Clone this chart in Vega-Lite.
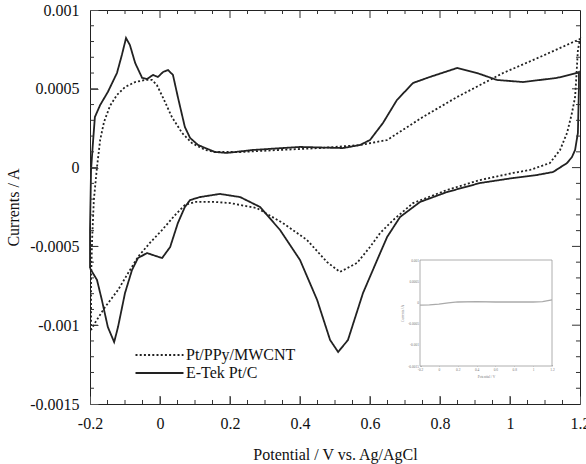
{
  "$schema": "https://vega.github.io/schema/vega-lite/v6.json",
  "width": 490,
  "height": 394,
  "autosize": "none",
  "padding": {"left": 90, "top": 10, "right": 6, "bottom": 60},
  "background": "white",
  "config": {
    "font": "Liberation Serif",
    "view": {"stroke": "#222", "strokeWidth": 1}
  },
  "datasets": {
    "cv": [
      {"s": "E-Tek Pt/C", "i": 0, "E": -0.2, "I": -0.000637},
      {"s": "E-Tek Pt/C", "i": 1, "E": -0.2, "I": -0.000396},
      {"s": "E-Tek Pt/C", "i": 2, "E": -0.197, "I": -0.000015},
      {"s": "E-Tek Pt/C", "i": 3, "E": -0.191, "I": 0.000175},
      {"s": "E-Tek Pt/C", "i": 4, "E": -0.186, "I": 0.000321},
      {"s": "E-Tek Pt/C", "i": 5, "E": -0.171, "I": 0.000397},
      {"s": "E-Tek Pt/C", "i": 6, "E": -0.149, "I": 0.00048},
      {"s": "E-Tek Pt/C", "i": 7, "E": -0.123, "I": 0.0006},
      {"s": "E-Tek Pt/C", "i": 8, "E": -0.109, "I": 0.000714},
      {"s": "E-Tek Pt/C", "i": 9, "E": -0.097, "I": 0.000822},
      {"s": "E-Tek Pt/C", "i": 10, "E": -0.086, "I": 0.000778},
      {"s": "E-Tek Pt/C", "i": 11, "E": -0.071, "I": 0.000664},
      {"s": "E-Tek Pt/C", "i": 12, "E": -0.051, "I": 0.000569},
      {"s": "E-Tek Pt/C", "i": 13, "E": -0.037, "I": 0.000562},
      {"s": "E-Tek Pt/C", "i": 14, "E": -0.02, "I": 0.000588},
      {"s": "E-Tek Pt/C", "i": 15, "E": -0.006, "I": 0.000575},
      {"s": "E-Tek Pt/C", "i": 16, "E": 0.009, "I": 0.000607},
      {"s": "E-Tek Pt/C", "i": 17, "E": 0.023, "I": 0.000619},
      {"s": "E-Tek Pt/C", "i": 18, "E": 0.037, "I": 0.000588},
      {"s": "E-Tek Pt/C", "i": 19, "E": 0.051, "I": 0.000448},
      {"s": "E-Tek Pt/C", "i": 20, "E": 0.071, "I": 0.000258},
      {"s": "E-Tek Pt/C", "i": 21, "E": 0.086, "I": 0.000188},
      {"s": "E-Tek Pt/C", "i": 22, "E": 0.109, "I": 0.000143},
      {"s": "E-Tek Pt/C", "i": 23, "E": 0.157, "I": 0.000099},
      {"s": "E-Tek Pt/C", "i": 24, "E": 0.191, "I": 0.000093},
      {"s": "E-Tek Pt/C", "i": 25, "E": 0.266, "I": 0.000112},
      {"s": "E-Tek Pt/C", "i": 26, "E": 0.4, "I": 0.000131},
      {"s": "E-Tek Pt/C", "i": 27, "E": 0.523, "I": 0.000124},
      {"s": "E-Tek Pt/C", "i": 28, "E": 0.571, "I": 0.000143},
      {"s": "E-Tek Pt/C", "i": 29, "E": 0.6, "I": 0.000175},
      {"s": "E-Tek Pt/C", "i": 30, "E": 0.637, "I": 0.000283},
      {"s": "E-Tek Pt/C", "i": 31, "E": 0.677, "I": 0.000429},
      {"s": "E-Tek Pt/C", "i": 32, "E": 0.723, "I": 0.000537},
      {"s": "E-Tek Pt/C", "i": 33, "E": 0.771, "I": 0.000575},
      {"s": "E-Tek Pt/C", "i": 34, "E": 0.849, "I": 0.000632},
      {"s": "E-Tek Pt/C", "i": 35, "E": 0.906, "I": 0.0006},
      {"s": "E-Tek Pt/C", "i": 36, "E": 0.963, "I": 0.000556},
      {"s": "E-Tek Pt/C", "i": 37, "E": 1.037, "I": 0.000543},
      {"s": "E-Tek Pt/C", "i": 38, "E": 1.134, "I": 0.000569},
      {"s": "E-Tek Pt/C", "i": 39, "E": 1.191, "I": 0.0006},
      {"s": "E-Tek Pt/C", "i": 40, "E": 1.197, "I": 0.000607},
      {"s": "E-Tek Pt/C", "i": 41, "E": 1.197, "I": 0.000511},
      {"s": "E-Tek Pt/C", "i": 42, "E": 1.194, "I": 0.00022},
      {"s": "E-Tek Pt/C", "i": 43, "E": 1.186, "I": 0.000112},
      {"s": "E-Tek Pt/C", "i": 44, "E": 1.177, "I": 0.000067},
      {"s": "E-Tek Pt/C", "i": 45, "E": 1.163, "I": 0.000029},
      {"s": "E-Tek Pt/C", "i": 46, "E": 1.123, "I": -0.000028},
      {"s": "E-Tek Pt/C", "i": 47, "E": 1.077, "I": -0.000047},
      {"s": "E-Tek Pt/C", "i": 48, "E": 1.009, "I": -0.000066},
      {"s": "E-Tek Pt/C", "i": 49, "E": 0.914, "I": -0.000098},
      {"s": "E-Tek Pt/C", "i": 50, "E": 0.82, "I": -0.000155},
      {"s": "E-Tek Pt/C", "i": 51, "E": 0.743, "I": -0.000218},
      {"s": "E-Tek Pt/C", "i": 52, "E": 0.686, "I": -0.000313},
      {"s": "E-Tek Pt/C", "i": 53, "E": 0.649, "I": -0.00044},
      {"s": "E-Tek Pt/C", "i": 54, "E": 0.629, "I": -0.000542},
      {"s": "E-Tek Pt/C", "i": 55, "E": 0.58, "I": -0.000796},
      {"s": "E-Tek Pt/C", "i": 56, "E": 0.537, "I": -0.001094},
      {"s": "E-Tek Pt/C", "i": 57, "E": 0.509, "I": -0.00117},
      {"s": "E-Tek Pt/C", "i": 58, "E": 0.486, "I": -0.001094},
      {"s": "E-Tek Pt/C", "i": 59, "E": 0.449, "I": -0.00084},
      {"s": "E-Tek Pt/C", "i": 60, "E": 0.4, "I": -0.000586},
      {"s": "E-Tek Pt/C", "i": 61, "E": 0.343, "I": -0.000396},
      {"s": "E-Tek Pt/C", "i": 62, "E": 0.286, "I": -0.00025},
      {"s": "E-Tek Pt/C", "i": 63, "E": 0.229, "I": -0.000187},
      {"s": "E-Tek Pt/C", "i": 64, "E": 0.171, "I": -0.000167},
      {"s": "E-Tek Pt/C", "i": 65, "E": 0.114, "I": -0.000187},
      {"s": "E-Tek Pt/C", "i": 66, "E": 0.086, "I": -0.000206},
      {"s": "E-Tek Pt/C", "i": 67, "E": 0.071, "I": -0.00025},
      {"s": "E-Tek Pt/C", "i": 68, "E": 0.051, "I": -0.000352},
      {"s": "E-Tek Pt/C", "i": 69, "E": 0.029, "I": -0.000504},
      {"s": "E-Tek Pt/C", "i": 70, "E": 0.006, "I": -0.000574},
      {"s": "E-Tek Pt/C", "i": 71, "E": -0.02, "I": -0.000555},
      {"s": "E-Tek Pt/C", "i": 72, "E": -0.037, "I": -0.000542},
      {"s": "E-Tek Pt/C", "i": 73, "E": -0.063, "I": -0.000574},
      {"s": "E-Tek Pt/C", "i": 74, "E": -0.08, "I": -0.00065},
      {"s": "E-Tek Pt/C", "i": 75, "E": -0.1, "I": -0.000796},
      {"s": "E-Tek Pt/C", "i": 76, "E": -0.12, "I": -0.001012},
      {"s": "E-Tek Pt/C", "i": 77, "E": -0.131, "I": -0.001107},
      {"s": "E-Tek Pt/C", "i": 78, "E": -0.149, "I": -0.001012},
      {"s": "E-Tek Pt/C", "i": 79, "E": -0.166, "I": -0.000841},
      {"s": "E-Tek Pt/C", "i": 80, "E": -0.18, "I": -0.000713},
      {"s": "E-Tek Pt/C", "i": 81, "E": -0.197, "I": -0.00065},
      {"s": "E-Tek Pt/C", "i": 82, "E": -0.2, "I": -0.000637},
      {"s": "Pt/PPy/MWCNT", "i": 0, "E": -0.197, "I": -0.001031},
      {"s": "Pt/PPy/MWCNT", "i": 1, "E": -0.197, "I": -0.000713},
      {"s": "Pt/PPy/MWCNT", "i": 2, "E": -0.194, "I": -0.000457},
      {"s": "Pt/PPy/MWCNT", "i": 3, "E": -0.189, "I": -0.000206},
      {"s": "Pt/PPy/MWCNT", "i": 4, "E": -0.18, "I": 0.000004},
      {"s": "Pt/PPy/MWCNT", "i": 5, "E": -0.171, "I": 0.000175},
      {"s": "Pt/PPy/MWCNT", "i": 6, "E": -0.16, "I": 0.000289},
      {"s": "Pt/PPy/MWCNT", "i": 7, "E": -0.143, "I": 0.000391},
      {"s": "Pt/PPy/MWCNT", "i": 8, "E": -0.123, "I": 0.000461},
      {"s": "Pt/PPy/MWCNT", "i": 9, "E": -0.1, "I": 0.000511},
      {"s": "Pt/PPy/MWCNT", "i": 10, "E": -0.071, "I": 0.000543},
      {"s": "Pt/PPy/MWCNT", "i": 11, "E": -0.043, "I": 0.000556},
      {"s": "Pt/PPy/MWCNT", "i": 12, "E": -0.023, "I": 0.000556},
      {"s": "Pt/PPy/MWCNT", "i": 13, "E": -0.009, "I": 0.000524},
      {"s": "Pt/PPy/MWCNT", "i": 14, "E": 0.009, "I": 0.000442},
      {"s": "Pt/PPy/MWCNT", "i": 15, "E": 0.034, "I": 0.000321},
      {"s": "Pt/PPy/MWCNT", "i": 16, "E": 0.063, "I": 0.00022},
      {"s": "Pt/PPy/MWCNT", "i": 17, "E": 0.091, "I": 0.000156},
      {"s": "Pt/PPy/MWCNT", "i": 18, "E": 0.129, "I": 0.000112},
      {"s": "Pt/PPy/MWCNT", "i": 19, "E": 0.157, "I": 0.000099},
      {"s": "Pt/PPy/MWCNT", "i": 20, "E": 0.229, "I": 0.000099},
      {"s": "Pt/PPy/MWCNT", "i": 21, "E": 0.343, "I": 0.000112},
      {"s": "Pt/PPy/MWCNT", "i": 22, "E": 0.457, "I": 0.000124},
      {"s": "Pt/PPy/MWCNT", "i": 23, "E": 0.571, "I": 0.000143},
      {"s": "Pt/PPy/MWCNT", "i": 24, "E": 0.649, "I": 0.000175},
      {"s": "Pt/PPy/MWCNT", "i": 25, "E": 0.751, "I": 0.000321},
      {"s": "Pt/PPy/MWCNT", "i": 26, "E": 0.849, "I": 0.000448},
      {"s": "Pt/PPy/MWCNT", "i": 27, "E": 0.98, "I": 0.0006},
      {"s": "Pt/PPy/MWCNT", "i": 28, "E": 1.086, "I": 0.000702},
      {"s": "Pt/PPy/MWCNT", "i": 29, "E": 1.194, "I": 0.00081},
      {"s": "Pt/PPy/MWCNT", "i": 30, "E": 1.2, "I": 0.000816},
      {"s": "Pt/PPy/MWCNT", "i": 31, "E": 1.194, "I": 0.000746},
      {"s": "Pt/PPy/MWCNT", "i": 32, "E": 1.189, "I": 0.000556},
      {"s": "Pt/PPy/MWCNT", "i": 33, "E": 1.186, "I": 0.000448},
      {"s": "Pt/PPy/MWCNT", "i": 34, "E": 1.177, "I": 0.000346},
      {"s": "Pt/PPy/MWCNT", "i": 35, "E": 1.163, "I": 0.00022},
      {"s": "Pt/PPy/MWCNT", "i": 36, "E": 1.143, "I": 0.000112},
      {"s": "Pt/PPy/MWCNT", "i": 37, "E": 1.114, "I": 0.000029},
      {"s": "Pt/PPy/MWCNT", "i": 38, "E": 1.057, "I": -0.000015},
      {"s": "Pt/PPy/MWCNT", "i": 39, "E": 1.009, "I": -0.000034},
      {"s": "Pt/PPy/MWCNT", "i": 40, "E": 0.914, "I": -0.000079},
      {"s": "Pt/PPy/MWCNT", "i": 41, "E": 0.82, "I": -0.000142},
      {"s": "Pt/PPy/MWCNT", "i": 42, "E": 0.723, "I": -0.000225},
      {"s": "Pt/PPy/MWCNT", "i": 43, "E": 0.666, "I": -0.000333},
      {"s": "Pt/PPy/MWCNT", "i": 44, "E": 0.629, "I": -0.000415},
      {"s": "Pt/PPy/MWCNT", "i": 45, "E": 0.6, "I": -0.000504},
      {"s": "Pt/PPy/MWCNT", "i": 46, "E": 0.563, "I": -0.000605},
      {"s": "Pt/PPy/MWCNT", "i": 47, "E": 0.514, "I": -0.000662},
      {"s": "Pt/PPy/MWCNT", "i": 48, "E": 0.477, "I": -0.000599},
      {"s": "Pt/PPy/MWCNT", "i": 49, "E": 0.42, "I": -0.000459},
      {"s": "Pt/PPy/MWCNT", "i": 50, "E": 0.351, "I": -0.000352},
      {"s": "Pt/PPy/MWCNT", "i": 51, "E": 0.277, "I": -0.000257},
      {"s": "Pt/PPy/MWCNT", "i": 52, "E": 0.2, "I": -0.000225},
      {"s": "Pt/PPy/MWCNT", "i": 53, "E": 0.157, "I": -0.000218},
      {"s": "Pt/PPy/MWCNT", "i": 54, "E": 0.1, "I": -0.000218},
      {"s": "Pt/PPy/MWCNT", "i": 55, "E": 0.071, "I": -0.000237},
      {"s": "Pt/PPy/MWCNT", "i": 56, "E": 0.043, "I": -0.000301},
      {"s": "Pt/PPy/MWCNT", "i": 57, "E": 0.006, "I": -0.000396},
      {"s": "Pt/PPy/MWCNT", "i": 58, "E": -0.029, "I": -0.000478},
      {"s": "Pt/PPy/MWCNT", "i": 59, "E": -0.063, "I": -0.000567},
      {"s": "Pt/PPy/MWCNT", "i": 60, "E": -0.091, "I": -0.000669},
      {"s": "Pt/PPy/MWCNT", "i": 61, "E": -0.12, "I": -0.000777},
      {"s": "Pt/PPy/MWCNT", "i": 62, "E": -0.157, "I": -0.000885},
      {"s": "Pt/PPy/MWCNT", "i": 63, "E": -0.186, "I": -0.000986},
      {"s": "Pt/PPy/MWCNT", "i": 64, "E": -0.197, "I": -0.001031}
    ],
    "inset": [
      {"i": 0, "E": -0.2, "I": -0.000065},
      {"i": 1, "E": -0.1, "I": -0.00006},
      {"i": 2, "E": 0, "I": -0.00004},
      {"i": 3, "E": 0.1, "I": -0.00001},
      {"i": 4, "E": 0.2, "I": 0.00001},
      {"i": 5, "E": 0.4, "I": 0.00002},
      {"i": 6, "E": 0.6, "I": 0.00001},
      {"i": 7, "E": 0.8, "I": 0.00001},
      {"i": 8, "E": 1.0, "I": 0.00001},
      {"i": 9, "E": 1.1, "I": 0.00002},
      {"i": 10, "E": 1.2, "I": 0.00006}
    ],
    "frame": [
      {"x1": -0.2, "x2": 1.2, "y1": -0.0015, "y2": 0.001}
    ],
    "xmaj": [{"v": 0}, {"v": 0.2}, {"v": 0.4}, {"v": 0.6}, {"v": 0.8}, {"v": 1}],
    "xmin": [{"v": -0.15}, {"v": -0.1}, {"v": -0.05}, {"v": 0.05}, {"v": 0.1}, {"v": 0.15}, {"v": 0.25}, {"v": 0.3}, {"v": 0.35}, {"v": 0.45}, {"v": 0.5}, {"v": 0.55}, {"v": 0.65}, {"v": 0.7}, {"v": 0.75}, {"v": 0.85}, {"v": 0.9}, {"v": 0.95}, {"v": 1.05}, {"v": 1.1}, {"v": 1.15}],
    "ymaj": [{"v": -0.001}, {"v": -0.0005}, {"v": 0}, {"v": 0.0005}],
    "ymin": [{"v": -0.0014}, {"v": -0.0013}, {"v": -0.0012}, {"v": -0.0011}, {"v": -0.0009}, {"v": -0.0008}, {"v": -0.0007}, {"v": -0.0006}, {"v": -0.0004}, {"v": -0.0003}, {"v": -0.0002}, {"v": -0.0001}, {"v": 0.0001}, {"v": 0.0002}, {"v": 0.0003}, {"v": 0.0004}, {"v": 0.0006}, {"v": 0.0007}, {"v": 0.0008}, {"v": 0.0009}]
  },
  "layer": [
    {
      "data": {"name": "cv"},
      "mark": {"type": "line", "color": "#222", "strokeWidth": 1.8},
      "encoding": {
        "x": {
          "field": "E", "type": "quantitative",
          "scale": {"domain": [-0.2, 1.2], "nice": false, "zero": false},
          "axis": {
            "orient": "bottom",
            "offset": -8,
            "values": [-0.2, 0, 0.2, 0.4, 0.6, 0.8, 1, 1.2],
            "labelExpr": "replace(format(datum.value,'~g'),'\u2212','-')",
            "tickSize": 8,
            "tickColor": "#555",
            "tickWidth": 1,
            "domainOpacity": 0,
            "gridOpacity": 0,
            "labelFont": "Liberation Serif",
            "labelFontSize": 16,
            "labelColor": "#111",
            "labelPadding": 11,
            "labelOverlap": false,
            "labelFlush": false,
            "labelBound": false,
            "title": "Potential / V vs. Ag/AgCl",
            "titleFont": "Liberation Serif",
            "titleFontSize": 16,
            "titleFontWeight": "normal",
            "titleColor": "#111",
            "titlePadding": 15
          }
        },
        "y": {
          "field": "I", "type": "quantitative",
          "scale": {"domain": [-0.0015, 0.001], "nice": false, "zero": false},
          "axis": {
            "orient": "left",
            "offset": -8,
            "values": [-0.0015, -0.001, -0.0005, 0, 0.0005, 0.001],
            "labelExpr": "replace(format(datum.value,'~g'),'\u2212','-')",
            "tickSize": 8,
            "tickColor": "#555",
            "tickWidth": 1,
            "domainOpacity": 0,
            "gridOpacity": 0,
            "labelFont": "Liberation Serif",
            "labelFontSize": 16,
            "labelColor": "#111",
            "labelPadding": 11,
            "labelOverlap": false,
            "labelFlush": false,
            "labelBound": false,
            "title": "Currents / A",
            "titleFont": "Liberation Serif",
            "titleFontSize": 16,
            "titleFontWeight": "normal",
            "titleColor": "#111",
            "titlePadding": 8
          }
        },
        "strokeDash": {
          "field": "s", "type": "nominal",
          "scale": {"domain": ["Pt/PPy/MWCNT", "E-Tek Pt/C"], "range": [[2, 2.2], [1, 0]]},
          "legend": {
            "orient": "none",
            "legendX": 61.5,
            "legendY": 337,
            "padding": 0,
            "title": null,
            "symbolType": "M-4,0H4",
            "symbolSize": 144,
            "symbolStrokeWidth": 2,
            "symbolStrokeColor": "#222",
            "symbolFillColor": "transparent",
            "labelFont": "Liberation Serif",
            "labelFontSize": 16,
            "labelColor": "#111",
            "labelOffset": 18.5,
            "rowPadding": 2
          }
        },
        "detail": {"field": "s"},
        "order": {"field": "i", "type": "quantitative"}
      }
    },
    {
      "data": {"name": "xmaj"},
      "mark": {"type": "rule", "color": "#333", "strokeWidth": 1},
      "encoding": {
        "x": {"field": "v", "type": "quantitative", "scale": {"domain": [-0.2, 1.2], "nice": false, "zero": false}, "axis": null},
        "y": {"datum": -0.0015, "type": "quantitative", "scale": {"domain": [-0.0015, 0.001], "nice": false, "zero": false}, "axis": null},
        "y2": {"datum": -0.0014492}
      }
    },
    {
      "data": {"name": "xmaj"},
      "mark": {"type": "rule", "color": "#333", "strokeWidth": 1},
      "encoding": {
        "x": {"field": "v", "type": "quantitative", "scale": {"domain": [-0.2, 1.2], "nice": false, "zero": false}, "axis": null},
        "y": {"datum": 0.001, "type": "quantitative", "scale": {"domain": [-0.0015, 0.001], "nice": false, "zero": false}, "axis": null},
        "y2": {"datum": 0.0009492}
      }
    },
    {
      "data": {"name": "xmin"},
      "mark": {"type": "rule", "color": "#333", "strokeWidth": 1},
      "encoding": {
        "x": {"field": "v", "type": "quantitative", "scale": {"domain": [-0.2, 1.2], "nice": false, "zero": false}, "axis": null},
        "y": {"datum": -0.0015, "type": "quantitative", "scale": {"domain": [-0.0015, 0.001], "nice": false, "zero": false}, "axis": null},
        "y2": {"datum": -0.0014746}
      }
    },
    {
      "data": {"name": "xmin"},
      "mark": {"type": "rule", "color": "#333", "strokeWidth": 1},
      "encoding": {
        "x": {"field": "v", "type": "quantitative", "scale": {"domain": [-0.2, 1.2], "nice": false, "zero": false}, "axis": null},
        "y": {"datum": 0.001, "type": "quantitative", "scale": {"domain": [-0.0015, 0.001], "nice": false, "zero": false}, "axis": null},
        "y2": {"datum": 0.0009746}
      }
    },
    {
      "data": {"name": "ymaj"},
      "mark": {"type": "rule", "color": "#333", "strokeWidth": 1},
      "encoding": {
        "y": {"field": "v", "type": "quantitative", "scale": {"domain": [-0.0015, 0.001], "nice": false, "zero": false}, "axis": null},
        "x": {"datum": -0.2, "type": "quantitative", "scale": {"domain": [-0.2, 1.2], "nice": false, "zero": false}, "axis": null},
        "x2": {"datum": -0.17714}
      }
    },
    {
      "data": {"name": "ymaj"},
      "mark": {"type": "rule", "color": "#333", "strokeWidth": 1},
      "encoding": {
        "y": {"field": "v", "type": "quantitative", "scale": {"domain": [-0.0015, 0.001], "nice": false, "zero": false}, "axis": null},
        "x": {"datum": 1.2, "type": "quantitative", "scale": {"domain": [-0.2, 1.2], "nice": false, "zero": false}, "axis": null},
        "x2": {"datum": 1.17714}
      }
    },
    {
      "data": {"name": "ymin"},
      "mark": {"type": "rule", "color": "#333", "strokeWidth": 1},
      "encoding": {
        "y": {"field": "v", "type": "quantitative", "scale": {"domain": [-0.0015, 0.001], "nice": false, "zero": false}, "axis": null},
        "x": {"datum": -0.2, "type": "quantitative", "scale": {"domain": [-0.2, 1.2], "nice": false, "zero": false}, "axis": null},
        "x2": {"datum": -0.18857}
      }
    },
    {
      "data": {"name": "ymin"},
      "mark": {"type": "rule", "color": "#333", "strokeWidth": 1},
      "encoding": {
        "y": {"field": "v", "type": "quantitative", "scale": {"domain": [-0.0015, 0.001], "nice": false, "zero": false}, "axis": null},
        "x": {"datum": 1.2, "type": "quantitative", "scale": {"domain": [-0.2, 1.2], "nice": false, "zero": false}, "axis": null},
        "x2": {"datum": 1.18857}
      }
    },
    {
      "data": {"name": "frame"},
      "mark": {"type": "rect", "fill": "white", "stroke": "#999", "strokeWidth": 0.8},
      "encoding": {
        "x": {"field": "x1", "type": "quantitative", "scale": {"domain": [-0.2, 1.2], "range": [330, 462], "nice": false, "zero": false}, "axis": null},
        "x2": {"field": "x2"},
        "y": {"field": "y1", "type": "quantitative", "scale": {"domain": [-0.0015, 0.001], "range": [356, 250], "nice": false, "zero": false}, "axis": null},
        "y2": {"field": "y2"}
      }
    },
    {
      "data": {"name": "inset"},
      "mark": {"type": "line", "color": "#aaa", "strokeWidth": 1.3},
      "encoding": {
        "x": {
          "field": "E", "type": "quantitative",
          "scale": {"domain": [-0.2, 1.2], "range": [330, 462], "nice": false, "zero": false},
          "axis": {
            "orient": "bottom",
            "offset": -39.5,
            "values": [-0.2, 0, 0.2, 0.4, 0.6, 0.8, 1, 1.2],
            "labelExpr": "replace(format(datum.value,'~g'),'\u2212','-')",
            "domainOpacity": 0,
            "gridOpacity": 0,
            "tickSize": 1.5,
            "tickColor": "#bbb",
            "tickWidth": 1,
            "labelFontSize": 3.5,
            "labelColor": "#777",
            "labelPadding": 1.5,
            "labelOverlap": false,
            "labelFlush": false,
            "title": "Potential / V",
            "titleFontSize": 3.5,
            "titleFontWeight": "normal",
            "titleColor": "#777",
            "titlePadding": 3
          }
        },
        "y": {
          "field": "I", "type": "quantitative",
          "scale": {"domain": [-0.0015, 0.001], "range": [356, 250], "nice": false, "zero": false},
          "axis": {
            "orient": "left",
            "offset": -331.5,
            "values": [-0.0015, -0.001, -0.0005, 0, 0.0005, 0.001],
            "labelExpr": "replace(format(datum.value,'~g'),'\u2212','-')",
            "domainOpacity": 0,
            "gridOpacity": 0,
            "tickSize": 1.5,
            "tickColor": "#bbb",
            "tickWidth": 1,
            "labelFontSize": 3.5,
            "labelColor": "#777",
            "labelPadding": 1.5,
            "labelOverlap": false,
            "labelFlush": false,
            "title": "Currents / A",
            "titleFontSize": 3.5,
            "titleFontWeight": "normal",
            "titleColor": "#777",
            "titlePadding": 3
          }
        },
        "order": {"field": "i", "type": "quantitative"}
      }
    }
  ],
  "resolve": {"scale": {"x": "independent", "y": "independent", "strokeDash": "independent"}}
}
